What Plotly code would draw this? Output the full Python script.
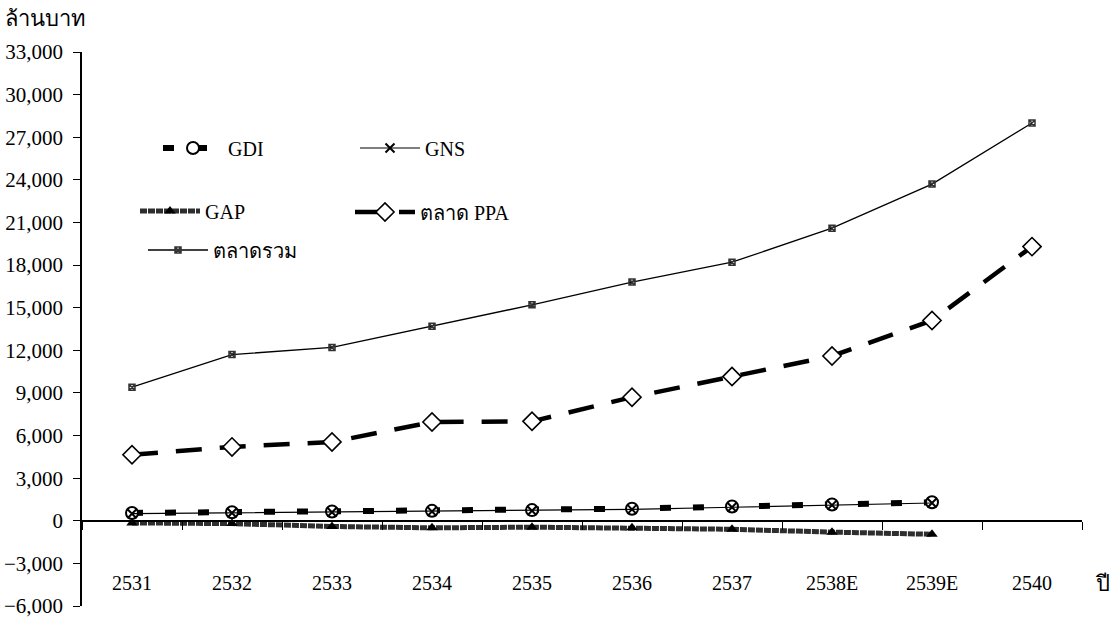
import plotly.graph_objects as go

# Years (Thai Buddhist calendar); E = estimate
years = ["2531", "2532", "2533", "2534", "2535", "2536", "2537", "2538E", "2539E", "2540"]

# Values in million baht
gdi = [550, 600, 650, 700, 750, 850, 1000, 1150, 1300]
gns = [500, 550, 600, 650, 700, 800, 950, 1100, 1250]
gap = [-150, -200, -400, -500, -450, -500, -600, -800, -950]
ppa_market = [4650, 5200, 5550, 6950, 7000, 8700, 10150, 11600, 14100, 19300]
total_market = [9400, 11700, 12200, 13700, 15200, 16800, 18200, 20600, 23700, 28000]

y_ticks = list(range(-6000, 33001, 3000))

FONT = "Liberation Serif, Times New Roman, serif"

fig = go.Figure()

fig.add_trace(go.Scatter(
    x=years[:len(gap)], y=gap, name="GAP", mode="lines+markers",
    line=dict(color="#2e2e2e", width=5, dash="7px,1px"),
    marker=dict(symbol="triangle-up", size=10, color="black"),
    legend="legend3",
))
fig.add_trace(go.Scatter(
    x=years[:len(gdi)], y=gdi, name="GDI", mode="lines+markers",
    line=dict(color="black", width=6, dash="11px,22px"),
    marker=dict(symbol="circle", size=12, color="white", line=dict(width=2, color="black")),
    legend="legend",
))
fig.add_trace(go.Scatter(
    x=years[:len(gns)], y=gns, name="GNS", mode="lines+markers",
    line=dict(color="black", width=1.2),
    marker=dict(symbol="x-thin-open", size=9, color="black", line=dict(width=2, color="black")),
    legend="legend2",
))
fig.add_trace(go.Scatter(
    x=years, y=ppa_market, name="ตลาด PPA", mode="lines+markers",
    line=dict(color="black", width=4.5, dash="26px,18px"),
    marker=dict(symbol="diamond", size=14, color="white", line=dict(width=1.6, color="black")),
    legend="legend4",
))
fig.add_trace(go.Scatter(
    x=years, y=total_market, name="ตลาดรวม", mode="lines+markers",
    line=dict(color="black", width=1.3),
    marker=dict(symbol="square-x-open", size=6, color="#333", line=dict(width=1.5, color="#333")),
    legend="legend5",
))

legend_common = dict(
    font=dict(family=FONT, size=20, color="black"),
    bgcolor="rgba(0,0,0,0)", itemwidth=60, xanchor="left", yanchor="middle",
    tracegroupgap=0,
)
# plot area spans x 82..1082 px and y 52..606 px
def px_x(p):
    return (p - 82) / 1000.0

def px_y(p):
    return (606 - p) / 554.0

fig.update_layout(
    width=1117, height=618,
    margin=dict(l=82, r=35, t=52, b=12),
    paper_bgcolor="white", plot_bgcolor="white",
    font=dict(family=FONT, size=20, color="black"),
    showlegend=True,
    legend=dict(x=px_x(158), y=px_y(148), **legend_common),
    legend2=dict(x=px_x(355), y=px_y(148), **legend_common),
    legend3=dict(x=px_x(135), y=px_y(211), **legend_common),
    legend4=dict(x=px_x(350), y=px_y(212), **legend_common),
    legend5=dict(x=px_x(143), y=px_y(250), **legend_common),
    xaxis=dict(
        type="category", categoryarray=years, categoryorder="array",
        range=[-0.5, len(years) - 0.5], automargin=False,
        tickson="boundaries", ticks="outside", ticklen=8, tickwidth=1.2, tickcolor="black",
        showline=True, linecolor="black", linewidth=1.5, showgrid=False, zeroline=False,
        anchor="free", position=6000 / 39000, ticklabelstandoff=44,
        ticklabeloverflow="allow",
        tickfont=dict(family=FONT, size=20, color="black"),
    ),
    yaxis=dict(
        range=[-6000, 33000], tickvals=y_ticks, tickformat=",", automargin=False,
        ticks="outside", ticklen=7, tickwidth=1.2, tickcolor="black",
        showline=True, linecolor="black", linewidth=1.5, showgrid=False, zeroline=False,
        ticklabelstandoff=6, ticklabeloverflow="allow",
        tickfont=dict(family=FONT, size=21, color="black"),
    ),
    annotations=[
        dict(text="ล้านบาท", xref="paper", yref="paper", x=px_x(3), y=px_y(18),
             xanchor="left", yanchor="middle", showarrow=False,
             font=dict(family=FONT, size=22, color="black")),
        dict(text="ปี", xref="paper", yref="paper", x=px_x(1102), y=px_y(583),
             xanchor="center", yanchor="middle", showarrow=False,
             font=dict(family=FONT, size=22, color="black")),
    ],
)

fig.write_html("out.html")
